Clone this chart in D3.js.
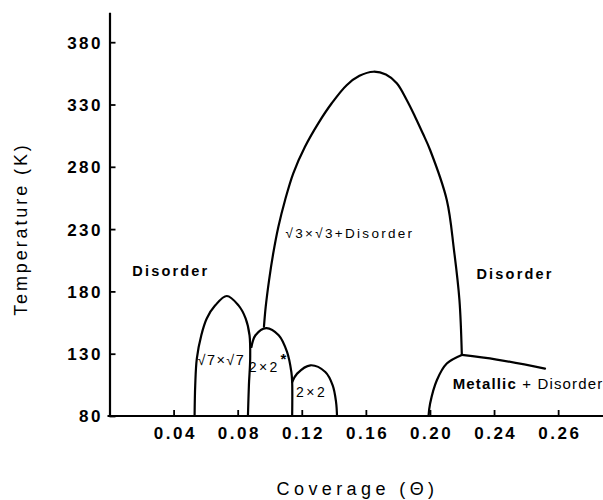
<!DOCTYPE html>
<html>
<head>
<meta charset="utf-8">
<script src="https://cdn.jsdelivr.net/npm/d3@7"></script>
<style>
  html, body { margin: 0; padding: 0; background: #fff; }
  svg { display: block; }
  text { font-family: "Liberation Sans", Arial, sans-serif; fill: #000; }
</style>
</head>
<body>
<svg id="chart" width="603" height="500"></svg>
<script>
// ---- data (coverage, temperature K) ----
const yTickValues = [80, 130, 180, 230, 280, 330, 380];
const xTickValues = [0.04, 0.08, 0.12, 0.16, 0.20, 0.24, 0.28];
const xTickLabels = ["0.04", "0.08", "0.12", "0.16", "0.20", "0.24", "0.26"];

const sqrt7Dome = [
  [0.0531, 80], [0.0535, 104.6], [0.0545, 126.1], [0.0573, 144.8], [0.0607, 158.2],
  [0.0660, 168.8], [0.0732, 176.3], [0.0805, 168.8], [0.0850, 158.2], [0.0874, 144.8],
  [0.0878, 126.1], [0.0870, 104.6], [0.0864, 80]
];
const twoByTwoStarDome = [
  [0.0886, 135.4], [0.0911, 144.8], [0.0978, 150.6], [0.1056, 144.8], [0.1108, 131.4],
  [0.1135, 115.3], [0.1140, 107.3], [0.1140, 80]
];
const twoByTwoDome = [
  [0.1140, 107.3], [0.1171, 114.0], [0.1254, 120.7], [0.1347, 115.3], [0.1393, 104.6],
  [0.1414, 91.2], [0.1420, 80]
];
const sqrt3Dome = [
  [0.0964, 151.7], [0.0975, 167.7], [0.0996, 189.1], [0.1022, 210.6], [0.1054, 231.9],
  [0.1096, 253.4], [0.1147, 274.8], [0.1220, 296.1], [0.1303, 314.9], [0.1387, 331.0],
  [0.1480, 345.5], [0.1560, 353.0], [0.1647, 356.3], [0.1725, 354.0], [0.1793, 347.0],
  [0.1855, 333.6], [0.1907, 320.2], [0.1955, 306.9], [0.2001, 293.5], [0.2105, 253.4],
  [0.2150, 213.2], [0.2184, 173.1], [0.2199, 129.0]
];
const metallicLeft = [
  [0.1991, 80], [0.2001, 90.0], [0.2043, 108.7], [0.2105, 122.1], [0.2199, 129.0]
];
const metallicTop = [
  [0.2199, 129.0], [0.2417, 125.3], [0.2718, 118.0]
];

const phaseLabels = ["Disorder", "Disorder", "\u221A3\u00D7\u221A3+Disorder", "\u221A7\u00D7\u221A7", "2\u00D72", "2\u00D72"];
const labelX = [0.0383, 0.2531, 0.1501, 0.0698, 0.0966, 0.1262];
const labelT = [196.6, 194.5, 227.1, 124.9, 119.6, 99.0];
const metallicLabel = ["Metallic", " + Disorder"];
const metallicX = 0.2142, metallicT = 106.2;

// ---- layout ----
const svg = d3.select("#chart");
const x = d3.scaleLinear().domain([0, 0.308]).range([109.5, 603]);
const y = d3.scaleLinear().domain([80, 404]).range([416, 12.3]);

// axes
const yAxis = d3.axisLeft(y).tickValues(yTickValues).tickSize(-6).tickSizeOuter(0).tickPadding(9)
  .tickFormat(d3.format("d"));
const xAxis = d3.axisBottom(x).tickValues(xTickValues).tickSize(-6).tickSizeOuter(0).tickPadding(11)
  .tickFormat((d, i) => xTickLabels[i]);

const gy = svg.append("g").attr("transform", `translate(${x(0)},0)`).call(yAxis);
const gx = svg.append("g").attr("transform", `translate(0,${y(80)})`).call(xAxis);

[gx, gy].forEach(g => {
  g.select(".domain").attr("stroke", "#000").attr("stroke-width", 2.2);
  g.selectAll(".tick line").attr("stroke", "#000").attr("stroke-width", 1.8);
  g.selectAll(".tick text")
    .attr("fill", "#000")
    .style("font-family", "'Liberation Sans', Arial, sans-serif")
    .style("font-size", "17px")
    .style("font-weight", "bold")
    .style("letter-spacing", "2.5px");
});
gx.select(".domain").attr("d", `M${x(0) - 2},0H603`);
gy.selectAll(".tick text").attr("dy", "0.35em").attr("dx", "2.5px");
gx.selectAll(".tick text").attr("dx", "1.2px");

// curves
const line = d3.line().x(d => x(d[0])).y(d => y(d[1])).curve(d3.curveCatmullRom.alpha(0.5));
[sqrt7Dome, twoByTwoStarDome, twoByTwoDome, sqrt3Dome, metallicLeft, metallicTop].forEach(pts => {
  svg.append("path").datum(pts).attr("d", line)
    .attr("fill", "none").attr("stroke", "#000").attr("stroke-width", 2.2)
    .attr("stroke-linejoin", "round").attr("stroke-linecap", "round");
});

// phase labels
const styles = [
  { size: 14.5, weight: "bold", ls: 2.2 },
  { size: 14.5, weight: "bold", ls: 2.2 },
  { size: 13.5, weight: "normal", ls: 2.3 },
  { size: 14.5, weight: "normal", ls: 1.4 },
  { size: 14, weight: "normal", ls: 2.5 },
  { size: 14, weight: "normal", ls: 2.5 }
];
phaseLabels.forEach((t, i) => {
  const s = styles[i];
  svg.append("text")
    .attr("x", x(labelX[i])).attr("y", y(labelT[i]))
    .attr("dy", "0.36em")
    .attr("text-anchor", "middle")
    .style("font-size", s.size + "px")
    .style("font-weight", s.weight)
    .style("letter-spacing", s.ls + "px")
    .text(t);
});
// asterisk for 2x2*
svg.append("text").attr("x", x(0.1085)).attr("y", y(121.7))
  .attr("text-anchor", "middle").style("font-size", "15px").style("font-weight", "bold").text("*");

// metallic label
const mt = svg.append("text")
  .attr("x", x(metallicX)).attr("y", y(metallicT)).attr("dy", "0.36em")
  .style("font-size", "15px").style("letter-spacing", "1.15px");
mt.append("tspan").style("font-weight", "bold").text(metallicLabel[0]);
mt.append("tspan").text(metallicLabel[1]);

// axis titles
svg.append("text")
  .attr("transform", `translate(21,${y(230)}) rotate(-90)`)
  .attr("text-anchor", "middle").attr("dy", "0.35em")
  .style("font-size", "18px").style("letter-spacing", "2.9px")
  .text("Temperature (K)");
svg.append("text")
  .attr("x", x(0.1548)).attr("y", 489)
  .attr("text-anchor", "middle").attr("dy", "0.35em")
  .style("font-size", "18px").style("letter-spacing", "4.4px")
  .text("Coverage (\u0398)");
</script>
</body>
</html>
